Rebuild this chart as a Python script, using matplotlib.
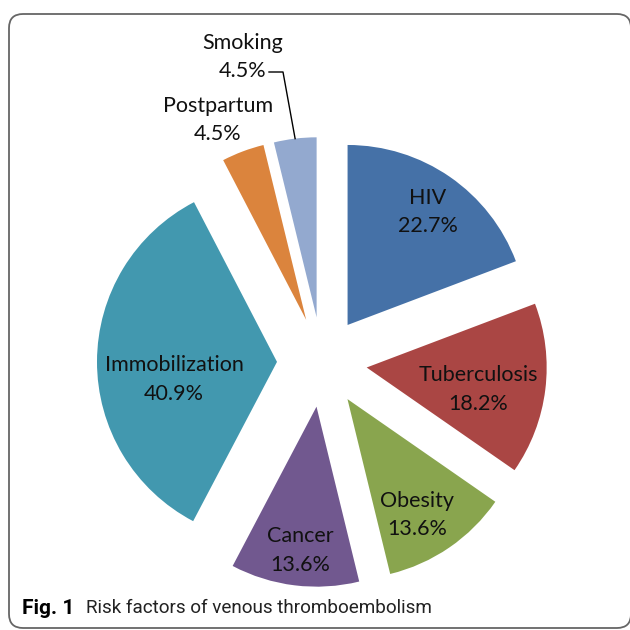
import numpy as np
import matplotlib
matplotlib.use("Agg")
import matplotlib.pyplot as plt
from matplotlib.patches import FancyBboxPatch

# Data (percent of patients, as printed on the chart)
factors = ["HIV", "Tuberculosis", "Obesity", "Cancer", "Immobilization", "Postpartum", "Smoking"]
values = [22.7, 18.2, 13.6, 13.6, 40.9, 4.5, 4.5]
colors = ["#4571A7", "#AA4644", "#89A54E", "#71588F", "#4298AF", "#DB843D", "#93A9CF"]

plt.rcParams["font.family"] = ["Lato", "DejaVu Sans"]
LABEL_FS = 15.5
LINESP = 1.55

fig = plt.figure(figsize=(6.3, 6.3), dpi=100)
ax = fig.add_axes([0, 0, 1, 1])

# rounded frame around the figure
frame = FancyBboxPatch((9, 2), 622, 614, boxstyle="round,pad=0,rounding_size=14",
                       transform=ax.transData, fill=False, edgecolor="#666666",
                       linewidth=1.3, clip_on=False)
ax.add_patch(frame)

wedges, _ = ax.pie(values, colors=colors, startangle=90, counterclock=False,
                   radius=180, center=(322, 268), explode=[45] * len(values),
                   frame=True)
ax.set_xlim(0, 630)
ax.set_ylim(0, 630)
ax.set_aspect("equal")
ax.axis("off")

# inside labels: offset from each wedge's apex
inner_offsets = [(80, 113), (112, -22), (70, -116), (-16, -144), (-103, -18)]
for w, name, val, (dx, dy) in zip(wedges[:5], factors[:5], values[:5], inner_offsets):
    cx, cy = w.center
    ax.text(cx + dx, cy + dy, f"{name}\n{val}%", ha="center", va="center",
            fontsize=LABEL_FS, linespacing=LINESP, color="#111111")

# outside labels
ax.text(218, 510, f"{factors[5]}\n{values[5]}%", ha="center", va="center",
        fontsize=LABEL_FS, linespacing=LINESP, color="#111111")
ax.text(243, 573, f"{factors[6]}\n{values[6]}%", ha="center", va="center",
        fontsize=LABEL_FS, linespacing=LINESP, color="#111111")

# leader line for Smoking
w = wedges[6]
mid = np.deg2rad(0.5 * (w.theta1 + w.theta2))
ex = w.center[0] + w.r * np.cos(mid)
ey = w.center[1] + w.r * np.sin(mid)
ax.plot([269, 283, ex], [558, 558, ey], color="black", linewidth=1)

# caption
cap_font = ["Roboto", "DejaVu Sans"]
ax.text(22, 22, "Fig. 1", fontsize=15, fontweight="bold", ha="left", va="center",
        family=cap_font)
ax.text(86, 22, "Risk factors of venous thromboembolism", fontsize=13.6, ha="left",
        va="center", family=cap_font, color="#222222")

fig.savefig("out.png", dpi=100)
